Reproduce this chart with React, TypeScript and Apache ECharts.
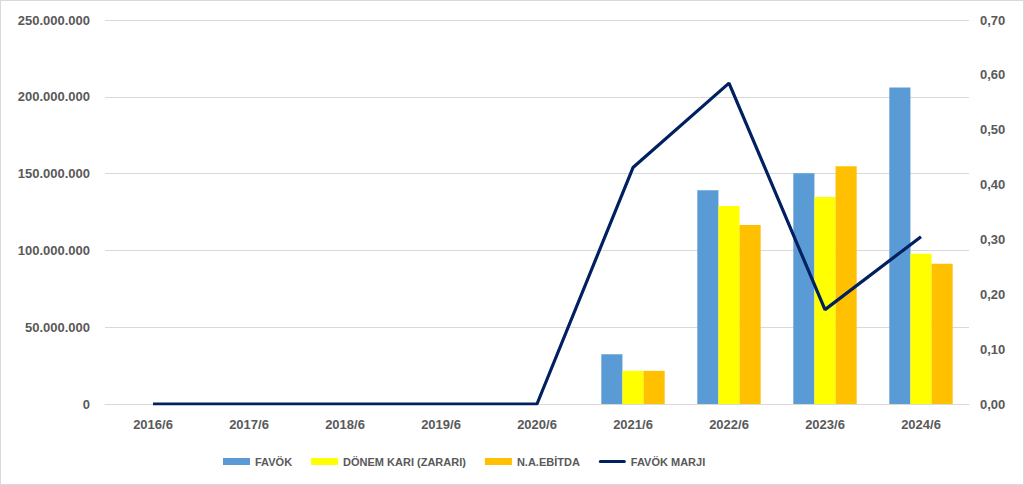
import React, { useEffect, useRef } from "react";
import * as echarts from "echarts";

const categories = ["2016/6", "2017/6", "2018/6", "2019/6", "2020/6", "2021/6", "2022/6", "2023/6", "2024/6"];
const favok = [0, 0, 0, 0, 0, 32400000, 139200000, 150300000, 206000000];
const donemKari = [0, 0, 0, 0, 0, 21600000, 128900000, 134700000, 97800000];
const naEbitda = [0, 0, 0, 0, 0, 21600000, 116600000, 154800000, 91300000];
const favokMarji = [0, 0, 0, 0, 0, 0.431, 0.585, 0.172, 0.305];

const fmtThousands = (v: number) => String(Math.round(v)).replace(/\B(?=(\d{3})+(?!\d))/g, ".");
const fmtRatio = (v: number) => v.toFixed(2).replace(".", ",");

const FONT = "'Liberation Sans', Arial, sans-serif";
const GRAY = "#595959";

export default function App() {
  const ref = useRef<HTMLDivElement>(null);
  useEffect(() => {
    if (!ref.current) return;
    const chart = echarts.init(ref.current, null, { renderer: "svg" });
    const labelStyle = { color: GRAY, fontFamily: FONT, fontSize: 13, fontWeight: "bold" as const };
    chart.setOption({
      animation: false,
      backgroundColor: "#ffffff",
      grid: { left: 104, right: 54, top: 19, bottom: 80 },
      legend: {
        bottom: 12,
        left: 217,
        itemWidth: 27,
        itemHeight: 7,
        itemGap: 19,
        textStyle: { color: GRAY, fontFamily: FONT, fontSize: 11, fontWeight: "bold" },
        data: [
          { name: "FAVÖK", icon: "rect" },
          { name: "DÖNEM KARI (ZARARI)", icon: "rect" },
          { name: "N.A.EBİTDA", icon: "rect" },
          { name: "FAVÖK MARJI", icon: "path://M1.5,0 L25.5,0 A1.5,1.5 0 0 1 25.5,3 L1.5,3 A1.5,1.5 0 0 1 1.5,0 Z" },
        ],
      },
      xAxis: {
        type: "category",
        data: categories,
        axisTick: { show: false },
        axisLine: { show: true, lineStyle: { color: "#d9d9d9", width: 1 } },
        axisLabel: { ...labelStyle, margin: 14 },
      },
      yAxis: [
        {
          type: "value",
          min: 0,
          max: 250000000,
          interval: 50000000,
          axisLine: { show: false },
          axisTick: { show: false },
          splitLine: { lineStyle: { color: "#d9d9d9", width: 1 } },
          axisLabel: { ...labelStyle, margin: 15, formatter: (v: number) => fmtThousands(v) },
        },
        {
          type: "value",
          min: 0,
          max: 0.7,
          interval: 0.1,
          axisLine: { show: false },
          axisTick: { show: false },
          splitLine: { show: false },
          axisLabel: { ...labelStyle, margin: 11, formatter: (v: number) => fmtRatio(v) },
        },
      ],
      series: [
        {
          name: "FAVÖK",
          type: "bar",
          data: favok,
          itemStyle: { color: "#5B9BD5" },
          barGap: "0%",
          barCategoryGap: "34%",
        },
        {
          name: "DÖNEM KARI (ZARARI)",
          type: "bar",
          data: donemKari,
          itemStyle: { color: "#FFFF00" },
          barGap: "0%",
          barCategoryGap: "34%",
        },
        {
          name: "N.A.EBİTDA",
          type: "bar",
          data: naEbitda,
          itemStyle: { color: "#FFC000" },
          barGap: "0%",
          barCategoryGap: "34%",
        },
        {
          name: "FAVÖK MARJI",
          type: "line",
          yAxisIndex: 1,
          data: favokMarji,
          symbol: "none",
          lineStyle: { color: "#002060", width: 3.2 },
          itemStyle: { color: "#002060" },
        },
      ],
    });
    return () => chart.dispose();
  }, []);
  return (
    <div
      style={{
        position: "fixed",
        left: 0,
        top: 0,
        width: 1024,
        height: 485,
        boxSizing: "border-box",
        border: "1px solid #d9d9d9",
        background: "#fff",
      }}
    >
      <div ref={ref} style={{ width: 1022, height: 483 }} />
    </div>
  );
}
